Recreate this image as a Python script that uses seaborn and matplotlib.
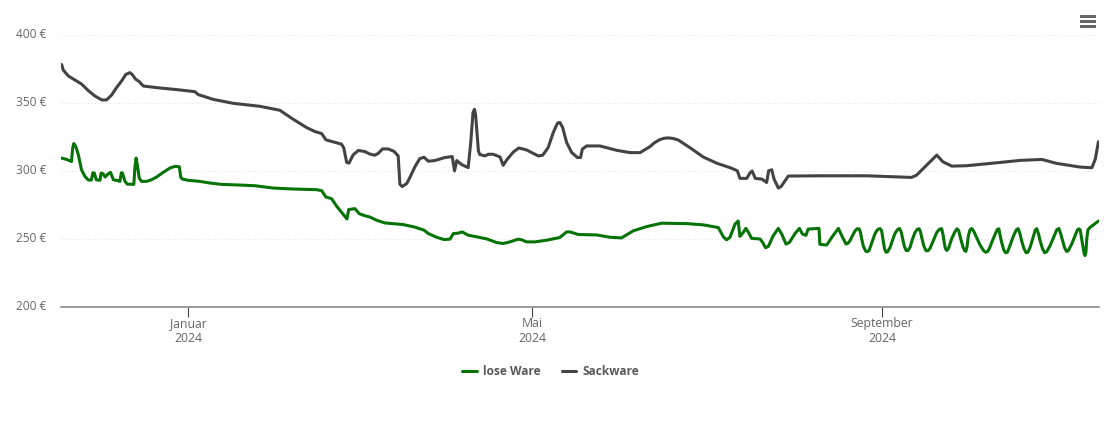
import matplotlib
matplotlib.use("Agg")
import matplotlib.pyplot as plt
from matplotlib.patches import Rectangle
import pandas as pd
import seaborn as sns

sns.set_theme(style="white")
plt.rcParams['font.family'] = ['Open Sans', 'DejaVu Sans']

# days after 2024-01-01, price in euro
lose_days = [-44.4,-42.6,-40.9,-40.5,-40.1,-39.4,-38.5,-37.4,-36.2,-35,-33.9,-33.4,-32.9,-32.2,-30.9,-30.5,-29.8,-29.1,-28,-27.2,-26.2,-24.5,-23.9,-23.4,-23,-22.1,-21.3,-19,-18.6,-18.2,-17.7,-17.1,-16.3,-14.5,-12.8,-11,-8.7,-6.3,-4.6,-3,-2.5,-1.9,0.1,4.2,7.7,11.8,18.3,23.6,30,37,45.2,47,48.5,50.5,52.3,54,55.9,56.5,58.7,60.2,62.2,64,
66.3,69.2,75.7,79.8,83,84.5,87.4,90,92.1,93.3,95,96.4,98.5,101.5,105,108.5,110.8,113.2,116.1,117.3,119,122,126,130.7,133.1,134.3,137.2,143.6,148.3,152.4,156.5,161.2,166.5,175.3,181.1,186.4,188.2,189.3,190.5,192.3,193.4,
194,195.2,196.1,197,198.1,201.1,202,203,204,205.7,207.5,208.7,210.2,211.4,213.4,214.9,216,217.2,218,221.8,222.1,224.5,226.3,228.6,229.8,
231.3,232,232.7,233.6,234.5,235.2,235.9,236.4,236.8,237.4,238.2,238.8,239.4,240.4,241.5,242.4,243.2,243.8,244.4,244.8,245.3,245.9,246.8,247.7,248.5,249.4,250.1,250.7,251.2,251.8,252.4,253,253.8,254.6,255.5,256.3,257,257.5,257.9,258.6,259.4,260.1,260.8,262,263.2,264.2,264.9,265.4,265.8,266.2,266.7,267.3,268.4,269.5,270.3,270.9,271.6,272.4,273,273.4,273.8,274.3,274.9,275.5,276.2,277.2,278.4,279.6,280.3,281,281.7,282.5,283.7,284.5,285,285.5,286,286.7,287.4,288,288.9,290.2,291.2,291.8,292.4,293,293.8,294.6,295.2,296,297,297.8,298.3,298.9,299.5,300.3,301.1,301.8,303,304.4,305.4,306.1,306.7,307.4,308.1,308.8,309.4,310.6,311.8,312.6,313.1,313.6,314.1,314.5,315,315.3,315.6,315.9,316.3,316.8,320]
lose_vals = [309.3,308.3,306.8,316.6,320,317.8,311.7,300.7,295.9,293.2,293.2,298.5,298.3,293.4,293,298.3,297.8,295.4,297.8,298.8,293.4,292.7,292.2,298.5,298.3,292.2,290.2,290,303.2,309.3,303.2,294.6,292.2,292.2,293.4,295.4,298.8,302,303.2,302.9,295.1,293.9,293,292.2,291,290,289.5,289,287.3,286.6,286.1,285.4,280.7,279.5,273.9,269.5,264.6,271.5,272.2,268.5,267,266,
263.7,261.7,260.5,258.6,256.4,253.9,251.2,249.5,249.8,253.9,254.2,255.1,252.7,251.5,250,247.3,246.6,247.8,249.8,249.3,247.8,247.8,249,251,255.1,255.1,253.2,252.9,251.2,250.7,255.9,259,261.5,261.2,260.3,258.3,251.5,249.3,251.1,260.9,263.1,
251.8,254.8,257.7,254.8,250.4,249.9,247.4,243.5,244.5,252.3,257.7,253.5,246.2,247.4,254,257.7,253.5,252.6,257.2,257.7,246,245.5,251.1,257.7,252.3,
246.2,246.8,248.7,252.5,256,257.4,257.4,254.5,250,244.5,241,240.6,241.5,247.5,254,256.8,257.6,256,248,243,240.2,240.5,243.8,249.5,254,256.8,257.6,255,250,244.5,241.5,241.3,243.8,249.5,254.5,257,257.4,255,251,245,241.3,241.3,243,249,254.8,257.2,257.5,253,247.4,243,241.5,243,249.9,255,257.4,256,250,244,241.3,240.8,244,252.3,256.8,257.6,255.5,251,245.5,241.5,240.2,240.6,243,247.4,253.5,257,257.4,252,247.4,242,239.8,240.2,245,252.5,256.8,257.5,254,248.7,243,239.8,240.2,243.8,251,256.5,257.5,254,248.7,243,239.8,240.5,245,252,256.8,257.6,254,248.7,243.5,240.8,241.3,246.2,252.5,256.5,257.4,256.5,250,245,239,237.8,240,250,256.5,258,263.1]

sack_days = [-44.4,-43.8,-42,-39.7,-37.4,-35,-32.7,-30.3,-28.6,-26.8,-25.1,-23.3,-21.8,-20.4,-19.6,-18.4,-17.1,-15.7,-11,-2.8,2.5,3.6,8.9,15.9,25.3,32.3,37,41.7,44.6,47,48.5,51.1,54,54.8,55.8,56.6,58.1,59.9,62.2,64,
65.7,66.9,68.4,70.4,72.4,73.9,74.5,75.3,76.9,78,79.8,81.5,83,84.5,86.8,90.3,92.9,93.7,94.5,96.2,98.5,99.4,100.2,100.7,101.1,102.1,102.6,104.4,105.6,107.3,109.7,110.8,112.2,114.4,116.3,119,123.1,124.7,126.6,128.4,129.8,130.3,130.8,131.7,133.1,134.9,136.9,138,138.6,140.1,144.8,150.7,155.4,158.9,162.4,164,165.9,167.5,168.9,170.5,172.3,176.4,181.1,185.9,190.5,193.1,
194,196.4,197.5,198.3,199.4,201.7,203.4,204.1,205.2,206,207.5,208.5,211,222,238.6,254.3,256.1,263.2,265.3,268.5,273.7,283.1,292.5,300.1,305.3,313.6,317.7,318.9,320]
sack_vals = [378,373.9,369.5,366.6,363.7,358.8,354.9,352,352,355.6,361,365.9,370.7,372,370.7,367.3,365.4,362.2,361,359.3,358,355.9,352.4,349.5,347.3,344.4,337.8,331.7,328.8,327.3,322.7,321.2,319.5,316.6,306.1,305.6,311.7,314.9,314.1,312.2,
311.4,312.8,316,316,314.3,310.9,290.1,288.4,290.6,295,303,308.9,309.9,307,307.5,309.7,310.4,299.9,307.5,304.5,302.3,320.7,342.7,345.1,341.4,314.5,311.9,310.9,312.1,312.1,310.1,304,308.4,313.8,316.7,315.3,310.9,311.4,317,328,334.6,335.4,335.3,331.7,320.7,313.3,309.7,309.7,315.8,318.2,318.2,315,313.3,313.3,317.7,320.6,322.9,323.9,324.1,323.7,322.6,317,310.1,305.5,302.3,300,
294.4,294.4,298.3,299.8,294.4,293.9,291.4,300,300.7,293.9,287.3,288.5,296.1,296.3,296.3,295.1,296.8,311.5,306.6,303.4,303.7,305.6,307.6,308.3,305.4,302.7,302.2,308.6,321.3]

series_names = ["lose Ware", "Sackware"]
series_colors = ["#067306", "#434343"]
y_ticks = [200, 250, 300, 350, 400]
x_tick_dates = ["2024-01-01", "2024-05-01", "2024-09-01"]
x_tick_labels = ["Januar\n2024", "Mai\n2024", "September\n2024"]

base = pd.Timestamp("2024-01-01")
df = pd.concat([
    pd.DataFrame({"date": base + pd.to_timedelta(lose_days, unit="D"), "price": lose_vals, "art": series_names[0]}),
    pd.DataFrame({"date": base + pd.to_timedelta(sack_days, unit="D"), "price": sack_vals, "art": series_names[1]}),
])

W, H = 1110, 422
fig = plt.figure(figsize=(W / 100, H / 100), dpi=100, facecolor="white")
ax = fig.add_axes([61 / W, 1 - 307 / H, (1099 - 61) / W, (307 - 34.5) / H])

sns.lineplot(data=df, x="date", y="price", hue="art", hue_order=series_names,
             palette=series_colors, estimator=None, sort=False, linewidth=2.2, ax=ax,
             solid_joinstyle="round", solid_capstyle="round")

ax.set_xlim(base + pd.Timedelta(days=-44.6), base + pd.Timedelta(days=320.2))
ax.set_ylim(200, 400)
ax.set_xlabel("")
ax.set_ylabel("")
ax.set_yticks(y_ticks)
ax.set_yticklabels([f"{v} €" for v in y_ticks])
ax.set_xticks(pd.to_datetime(x_tick_dates))
ax.set_xticklabels(x_tick_labels, linespacing=1.22)
ax.tick_params(axis="y", length=0, pad=10.5, labelsize=8.6, labelcolor="#666666")
for lab in ax.get_yticklabels():
    lab.set_y(lab.get_position()[1])
    lab.set_verticalalignment("center")
ax.tick_params(axis="x", bottom=True, length=7.2, width=0.8, color="#444444", pad=0, labelsize=8.8, labelcolor="#666666")
ax.grid(axis="y", color="#e4e4e4", linewidth=0.8, linestyle=(0, (1, 2)))
ax.grid(axis="x", visible=False)
ax.set_axisbelow(True)
for s in ["top", "right", "left"]:
    ax.spines[s].set_visible(False)
ax.spines["bottom"].set_color("#8a8a8a")
ax.spines["bottom"].set_linewidth(1.2)

handles, labels = ax.get_legend_handles_labels()
leg = ax.legend(handles, labels, loc="center", bbox_to_anchor=(551 / W, 1 - 371.5 / H),
                bbox_transform=fig.transFigure, ncol=2, frameon=False, handlelength=1.2,
                handletextpad=0.55, columnspacing=1.75, prop={"size": 8.6, "weight": "bold"})
for t in leg.get_texts():
    t.set_color("#595959")

# menu icon
for y in (15.5, 20.5, 25.5):
    fig.add_artist(Rectangle((1080 / W, 1 - (y + 2.5) / H), 16 / W, 3 / H,
                             transform=fig.transFigure, facecolor="#666666", edgecolor="none"))

fig.savefig("out.png", dpi=100)
